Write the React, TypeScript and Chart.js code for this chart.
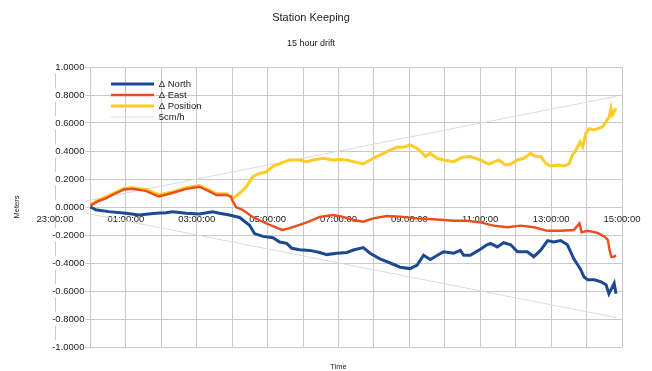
import React, { useEffect, useRef } from 'react';
import { Chart, registerables } from 'chart.js';

Chart.register(...registerables);

const TITLE = 'Station Keeping';
const SUBTITLE = '15 hour drift';
const SERIES_LABELS = ['Δ North', 'Δ East', 'Δ Position', '5cm/h'];
const Y_TITLE = 'Meters';
const X_TITLE = 'Time';

// hours after 00:00
const northT = [0, 0.15, 0.52, 1.0, 1.37, 1.85, 2.13, 2.32, 2.7, 3.07, 3.45, 3.64, 3.92, 4.21, 4.49, 4.63, 4.87, 5.15, 5.34, 5.54, 5.68, 5.9, 6.19, 6.47, 6.67, 6.95, 7.24, 7.42, 7.7, 7.89, 8.17, 8.46, 8.74, 9.02, 9.22, 9.4, 9.59, 9.96, 10.25, 10.44, 10.53, 10.72, 10.95, 11.19, 11.29, 11.48, 11.66, 11.86, 12.05, 12.33, 12.51, 12.7, 12.9, 13.07, 13.27, 13.46, 13.64, 13.78, 13.84, 13.93, 14.03, 14.22, 14.41, 14.55, 14.63, 14.73, 14.78, 14.83];
const northV = [0, -0.02, -0.033, -0.045, -0.057, -0.045, -0.041, -0.034, -0.045, -0.05, -0.034, -0.045, -0.057, -0.075, -0.13, -0.19, -0.21, -0.22, -0.25, -0.26, -0.295, -0.305, -0.31, -0.325, -0.34, -0.33, -0.325, -0.307, -0.29, -0.33, -0.37, -0.4, -0.43, -0.44, -0.415, -0.345, -0.375, -0.32, -0.33, -0.31, -0.345, -0.345, -0.31, -0.27, -0.26, -0.285, -0.255, -0.27, -0.32, -0.32, -0.355, -0.31, -0.24, -0.25, -0.24, -0.27, -0.37, -0.425, -0.45, -0.5, -0.52, -0.52, -0.535, -0.555, -0.62, -0.57, -0.545, -0.62];

const eastT = [0, 0.19, 0.43, 0.71, 0.95, 1.18, 1.56, 1.93, 2.31, 2.7, 3.07, 3.37, 3.55, 3.83, 3.97, 4.0, 4.11, 4.29, 4.57, 4.95, 5.41, 5.6, 5.88, 6.16, 6.47, 6.85, 7.13, 7.42, 7.7, 7.98, 8.36, 8.74, 9.2, 9.68, 10.24, 10.62, 11.0, 11.38, 11.76, 12.14, 12.52, 12.9, 13.27, 13.64, 13.8, 13.86, 14.03, 14.31, 14.5, 14.6, 14.65, 14.7, 14.78, 14.83];
const eastV = [0.01, 0.038, 0.062, 0.098, 0.125, 0.13, 0.115, 0.075, 0.1, 0.13, 0.145, 0.11, 0.086, 0.086, 0.074, 0.05, 0.0, -0.02, -0.07, -0.116, -0.164, -0.153, -0.129, -0.105, -0.07, -0.057, -0.07, -0.093, -0.105, -0.081, -0.064, -0.069, -0.081, -0.088, -0.098, -0.098, -0.11, -0.133, -0.145, -0.133, -0.145, -0.17, -0.17, -0.164, -0.117, -0.18, -0.17, -0.185, -0.21, -0.235, -0.31, -0.355, -0.355, -0.345];

const posT = [0, 0.19, 0.43, 0.71, 0.95, 1.18, 1.56, 1.93, 2.31, 2.7, 3.07, 3.37, 3.55, 3.83, 4.02, 4.21, 4.4, 4.58, 4.77, 4.96, 5.15, 5.34, 5.62, 5.9, 6.1, 6.28, 6.57, 6.85, 7.04, 7.23, 7.42, 7.7, 7.89, 8.08, 8.27, 8.46, 8.65, 8.83, 9.02, 9.21, 9.31, 9.45, 9.59, 9.78, 9.97, 10.25, 10.49, 10.72, 11.0, 11.24, 11.52, 11.71, 11.86, 12.05, 12.23, 12.42, 12.56, 12.71, 12.85, 12.99, 13.18, 13.37, 13.51, 13.6, 13.7, 13.82, 13.89, 13.98, 14.07, 14.22, 14.45, 14.55, 14.64, 14.69, 14.73, 14.83];
const posV = [0.012, 0.045, 0.07, 0.105, 0.133, 0.138, 0.125, 0.088, 0.108, 0.138, 0.153, 0.118, 0.096, 0.095, 0.062, 0.098, 0.145, 0.216, 0.24, 0.25, 0.29, 0.31, 0.336, 0.336, 0.324, 0.336, 0.348, 0.336, 0.34, 0.336, 0.324, 0.307, 0.336, 0.36, 0.383, 0.407, 0.426, 0.426, 0.443, 0.42, 0.4, 0.36, 0.383, 0.348, 0.336, 0.324, 0.355, 0.36, 0.336, 0.307, 0.336, 0.3, 0.307, 0.336, 0.348, 0.383, 0.36, 0.36, 0.31, 0.293, 0.3, 0.293, 0.31, 0.37, 0.407, 0.466, 0.43, 0.526, 0.56, 0.55, 0.573, 0.61, 0.645, 0.705, 0.657, 0.705];

const refT = [-1, 14.83];
const refUpV = [0, 0.79];
const refDownV = [0, -0.79];

const X_MIN = -1;
const X_MAX = 15;
const Y_MIN = -1;
const Y_MAX = 1;
const Y_STEP = 0.2;
const Y_LABEL_AT = -0.17; // labels sit just left of 00:00

const GRID = '#c9c9c9';
const TEXT = '#222222';
const FONT = "'Liberation Sans', Arial, sans-serif";

const pts = (t: number[], v: number[]) => t.map((x, i) => ({ x, y: v[i] }));

const hourLabel = (v: number) => {
  const h = ((Math.round(v) % 24) + 24) % 24;
  return String(h).padStart(2, '0') + ':00:00';
};

export default function App() {
  const ref = useRef<HTMLCanvasElement | null>(null);

  useEffect(() => {
    document.body.style.margin = '0';
    const canvas = ref.current;
    if (!canvas) return;
    Chart.defaults.font.family = FONT;

    const legendPlacer = {
      id: 'legendPlacer',
      beforeDraw(chart: any) {
        const lg = chart.legend;
        if (!lg) return;
        const ca = chart.chartArea;
        lg.left = ca.left + 54.5;
        lg.top = ca.top + 10.75;
        lg.right = ca.right;
        lg.bottom = ca.bottom;
      },
    };

    const line = (label: string, t: number[], v: number[], color: string, width: number) => ({
      label,
      data: pts(t, v),
      borderColor: color,
      backgroundColor: color,
      borderWidth: width,
      pointRadius: 0,
      pointStyle: 'line',
      tension: 0,
      fill: false,
    });

    const chart = new Chart(canvas, {
      type: 'line',
      data: {
        datasets: [
          line(SERIES_LABELS[0], northT, northV, '#1c4a92', 3),
          line(SERIES_LABELS[1], eastT, eastV, '#ec4d1c', 2.4),
          line(SERIES_LABELS[2], posT, posV, '#ffcb25', 3),
          line(SERIES_LABELS[3], refT, refUpV, '#d3dde2', 1),
          line(SERIES_LABELS[3], refT, refDownV, '#d3dde2', 1),
        ] as any,
      },
      options: {
        animation: false,
        responsive: false,
        layout: { padding: { top: 0, right: 30, bottom: 0, left: 0 } },
        plugins: {
          title: {
            display: true,
            text: TITLE,
            color: TEXT,
            font: { size: 11, weight: 'normal' as any },
            padding: { top: 11, bottom: 0 },
          },
          subtitle: {
            display: true,
            text: SUBTITLE,
            color: TEXT,
            font: { size: 9 },
            padding: { top: 14.4, bottom: 17.6 },
          },
          legend: {
            position: 'chartArea' as any,
            align: 'start',
            labels: {
              usePointStyle: true,
              pointStyleWidth: 43,
              boxHeight: 9.5,
              padding: 1.5,
              color: TEXT,
              font: { size: 9.5 },
              filter: (item: any) => item.datasetIndex !== 4,
            },
          },
          tooltip: { enabled: false },
        },
        scales: {
          x: {
            type: 'linear',
            position: { y: 0 } as any,
            min: X_MIN,
            max: X_MAX,
            grid: { color: GRID, drawTicks: false },
            border: { color: GRID },
            ticks: {
              stepSize: 1,
              autoSkip: false,
              maxRotation: 0,
              minRotation: 0,
              padding: 7,
              color: TEXT,
              font: { size: 9.5 },
              callback: (value: any) => {
                const v = Number(value);
                if (Math.abs(v - Math.round(v)) > 1e-6) return '';
                return Math.abs(Math.round(v)) % 2 === 1 ? hourLabel(v) : '';
              },
            },
          },
          y: {
            type: 'linear',
            position: { x: Y_LABEL_AT } as any,
            min: Y_MIN,
            max: Y_MAX,
            grid: { color: GRID, drawTicks: false },
            border: { display: false },
            ticks: {
              stepSize: Y_STEP,
              padding: 0,
              color: TEXT,
              font: { size: 9.5 },
              showLabelBackdrop: true,
              backdropColor: '#ffffff',
              backdropPadding: 1,
              z: 1,
              callback: (value: any) => {
                const v = Math.abs(Number(value)) < 1e-9 ? 0 : Number(value);
                return v.toFixed(4);
              },
            } as any,
          },
          x2: {
            type: 'linear',
            position: 'bottom',
            min: 0,
            max: 1,
            display: true,
            grid: { display: false, drawTicks: false },
            border: { display: false },
            ticks: { display: false },
            title: {
              display: true,
              text: X_TITLE,
              color: TEXT,
              font: { size: 7.5 },
              padding: { top: 15, bottom: 0 },
            },
          },
          y2: {
            type: 'linear',
            position: 'left',
            min: 0,
            max: 1,
            display: true,
            grid: { display: false, drawTicks: false },
            border: { display: false },
            ticks: { display: false },
            title: {
              display: true,
              text: Y_TITLE,
              color: TEXT,
              font: { size: 7.5 },
              padding: { top: 12.5, bottom: 33.5 },
            },
          },
        } as any,
      },
      plugins: [legendPlacer],
    });

    return () => chart.destroy();
  }, []);

  return (
    <div style={{ width: 652, height: 371 }}>
      <canvas ref={ref} width={652} height={371} style={{ display: 'block' }} />
    </div>
  );
}
